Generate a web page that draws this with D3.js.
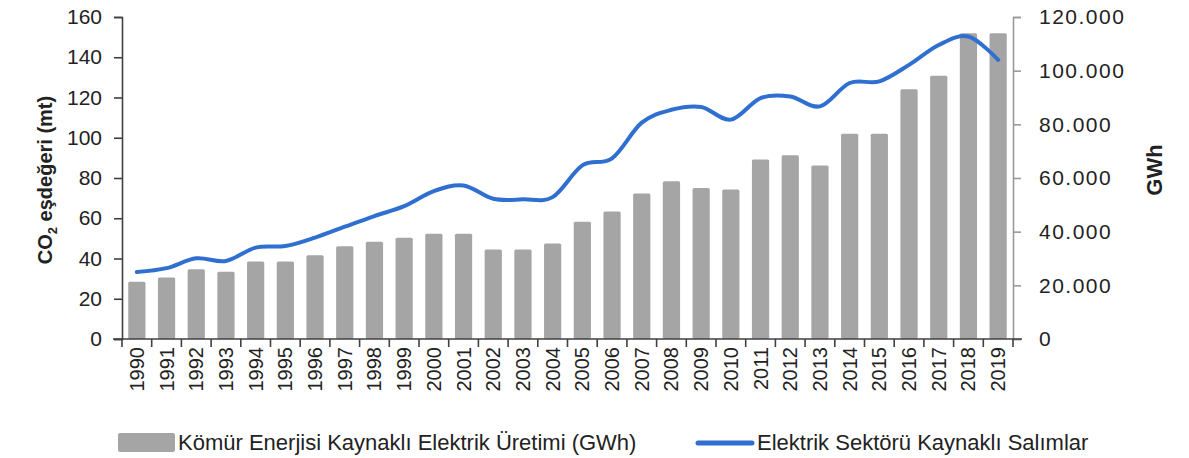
<!DOCTYPE html>
<html><head><meta charset="utf-8">
<script src="https://cdn.jsdelivr.net/npm/d3@7/dist/d3.min.js"></script>
<style>
body{margin:0;background:#fff;}
text{font-family:"Liberation Sans",Arial,sans-serif;fill:#222;}
</style></head>
<body><svg id="c" width="1189" height="458"></svg>
<script>
const years = ["1990","1991","1992","1993","1994","1995","1996","1997","1998","1999","2000","2001","2002","2003","2004","2005","2006","2007","2008","2009","2010","2011","2012","2013","2014","2015","2016","2017","2018","2019"];
// Coal-based electricity generation (GWh), right axis
const coalGWh = [21300,22900,26000,25100,28900,28900,31200,34600,36200,37700,39200,39200,33400,33400,35600,43700,47500,54200,58800,56300,55700,66900,68500,64700,76500,76500,93100,98100,113900,113900];
// Electricity-sector emissions (CO2 eq., mt), left axis
const emissions = [33.3,35.2,40.1,38.8,45.4,46.2,50.4,55.8,61.1,66.0,73.5,76.3,69.7,69.4,70.5,86.3,89.8,107.5,113.9,115.3,109.0,119.7,120.5,115.6,127.2,128.0,136.2,146.1,150.3,138.7];
const leftTicks = [0,20,40,60,80,100,120,140,160];
const rightTicks = [0,20000,40000,60000,80000,100000,120000];
const legendLabels = ["Kömür Enerjisi Kaynaklı Elektrik Üretimi (GWh)","Elektrik Sektörü Kaynaklı Salımlar"];

const svg = d3.select("#c");
const X0 = 122, X1 = 1013, Y0 = 339, Y1 = 17;
const x = d3.scaleBand().domain(years).range([X0, X1]).paddingInner(0.42).paddingOuter(0.21);
const yL = d3.scaleLinear().domain([0,160]).range([Y0, Y1]);
const yR = d3.scaleLinear().domain([0,120000]).range([Y0, Y1]);
const fmtR = v => v === 0 ? "0" : d3.format(",")(v).replace(/,/g, ".");

// bars
svg.append("g").selectAll("rect").data(years).join("rect")
  .attr("x", d => x(d)).attr("width", x.bandwidth())
  .attr("y", (d,i) => yR(coalGWh[i])).attr("height", (d,i) => Y0 - yR(coalGWh[i]))
  .attr("fill", "#a5a5a5").attr("rx", 1.5);

// line
const line = d3.line().x((d,i) => x(years[i]) + x.bandwidth()/2).y(d => yL(d)).curve(d3.curveCatmullRom.alpha(0));
svg.append("path").datum(emissions).attr("d", line)
  .attr("fill", "none").attr("stroke", "#2f6fd0").attr("stroke-width", 4).attr("stroke-linecap", "round");

// left axis
const gl = svg.append("g").attr("transform", `translate(${X0},0)`)
  .call(d3.axisLeft(yL).tickValues(leftTicks).tickSize(8).tickPadding(12));
gl.select(".domain").attr("stroke", "#404040").attr("stroke-width", 1.6);
gl.selectAll(".tick line").attr("stroke", "#404040").attr("stroke-width", 1.6);
gl.selectAll("text").attr("font-size", 21).attr("font-family", "Liberation Sans, Arial, sans-serif").attr("fill", "#222");

// right axis
const gr = svg.append("g").attr("transform", `translate(${X1},0)`)
  .call(d3.axisRight(yR).tickValues(rightTicks).tickFormat(fmtR).tickSize(8).tickPadding(18));
gr.select(".domain").attr("stroke", "#9a9a9a").attr("stroke-width", 1.6);
gr.selectAll(".tick line").attr("stroke", "#9a9a9a").attr("stroke-width", 1.6);
gr.selectAll("text").attr("font-size", 21).attr("letter-spacing", 1.5).attr("font-family", "Liberation Sans, Arial, sans-serif").attr("fill", "#222");

// x axis
const gx = svg.append("g").attr("transform", `translate(0,${Y0})`);
gx.append("line").attr("x1", X0 - 9).attr("x2", X1 + 9).attr("y1", 0).attr("y2", 0)
  .attr("stroke", "#404040").attr("stroke-width", 1.6);
gx.selectAll("line.tk").data(d3.range(years.length + 1)).join("line").attr("class","tk")
  .attr("x1", i => X0 + i * (X1 - X0) / years.length).attr("x2", i => X0 + i * (X1 - X0) / years.length)
  .attr("y1", 0).attr("y2", 8).attr("stroke", "#404040").attr("stroke-width", 1.6);
gx.selectAll("text").data(years).join("text")
  .attr("transform", d => `translate(${x(d) + x.bandwidth()/2 + 7},8) rotate(-90)`)
  .attr("text-anchor", "end").attr("font-size", 20).text(d => d);

// axis titles
const tl = svg.append("text").attr("transform", "translate(52,180) rotate(-90)")
  .attr("text-anchor", "middle").attr("font-size", 20).attr("font-weight", "bold");
tl.append("tspan").text("CO");
tl.append("tspan").attr("font-size", 13).attr("dy", 5).text("2");
tl.append("tspan").attr("dy", -5).text(" eşdeğeri (mt)");
svg.append("text").attr("transform", "translate(1162,170) rotate(-90)")
  .attr("text-anchor", "middle").attr("font-size", 22).attr("font-weight", "bold").text("GWh");

// legend
const lg = svg.append("g");
lg.append("rect").attr("x", 118).attr("y", 433).attr("width", 57).attr("height", 19).attr("rx", 2).attr("fill", "#a5a5a5");
lg.append("text").attr("x", 178).attr("y", 450).attr("font-size", 22).text(legendLabels[0]);
lg.append("line").attr("x1", 698).attr("x2", 752).attr("y1", 443).attr("y2", 443)
  .attr("stroke", "#2f6fd0").attr("stroke-width", 5).attr("stroke-linecap", "round");
lg.append("text").attr("x", 757).attr("y", 450).attr("font-size", 22).text(legendLabels[1]);
</script></body></html>
